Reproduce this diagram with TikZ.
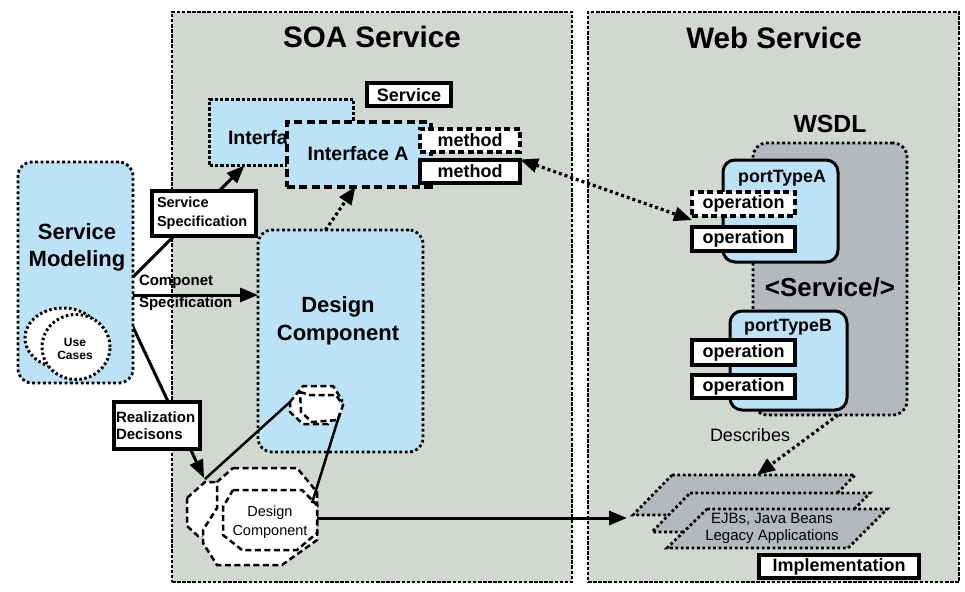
\documentclass[tikz,border=0pt]{standalone}
\usepackage{fontspec}
\setmainfont{Liberation Sans}
\usetikzlibrary{arrows.meta,shapes.geometric,calc}
\pgfdeclarelayer{bg}\pgfdeclarelayer{lines}
\pgfsetlayers{bg,lines,main}
\definecolor{panelgray}{RGB}{211,215,210}
\definecolor{lblue}{RGB}{188,226,248}
\definecolor{dgray}{RGB}{181,185,190}
\newcommand\fsz[2]{\fontsize{#1pt}{#2pt}\selectfont}
\begin{document}
\begin{tikzpicture}[x=1pt,y=-1pt,
  every node/.style={inner sep=0pt, outer sep=0pt},
  panel/.style={draw, line width=1.5pt, dash pattern=on 3.5pt off 1.6pt, fill=panelgray},
  dotbox/.style={draw, line width=2.8pt, dash pattern=on 2.8pt off 2.6pt, rounded corners=14pt, fill=lblue},
  thickbox/.style={draw, line width=4pt, fill=white},
  dashbox/.style={draw, line width=4pt, dash pattern=on 6pt off 3.5pt, fill=white},
  densedot/.style={draw, line width=3.6pt, dash pattern=on 3.4pt off 2pt, fill=lblue},
  portbox/.style={draw, line width=3pt, rounded corners=12pt, fill=lblue},
  octo/.style={draw, line width=2.5pt, dash pattern=on 6pt off 3.5pt, line join=miter},
  ucell/.style={ellipse, draw, line width=3pt, dash pattern=on 2.5pt off 2.5pt, fill=white},
  pgram/.style={draw, line width=2.8pt, dash pattern=on 2.8pt off 2.6pt, fill=dgray},
  solidarrow/.style={line width=3pt, -{Triangle[length=18pt,width=14pt]}},
  dotarrow/.style={line width=3.2pt, dash pattern=on 3pt off 3pt, -{Triangle[length=18pt,width=14pt]}},
  thinline/.style={line width=2.5pt},
  lblb/.style={font=\fsz{18}{20}\bfseries},
]
\useasboundingbox (0,0) rectangle (965,591);

% background and panels
\begin{pgfonlayer}{bg}
\fill[white] (0,0) rectangle (965,591);
\node[panel, minimum width=400pt, minimum height=570pt] (soa) at (372,297) {};
\node[panel, minimum width=371pt, minimum height=570pt] (web) at (773.5,297) {};
\end{pgfonlayer}
\node[font=\fsz{29.6}{34}\bfseries] (soat) at (372,37) {SOA Service};
\node[font=\fsz{29.6}{34}\bfseries] (webt) at (774,38) {Web Service};

% service modeling
\node[dotbox, minimum width=115pt, minimum height=221pt] (sm) at (75.5,272.5) {};
\node[font=\fsz{22}{27}\bfseries, align=center] (smt) at (77,247) {Service\\Modeling};
\node[ucell, minimum width=76pt, minimum height=60pt] (uc1) at (63,338) {};
\node[ucell, minimum width=68pt, minimum height=65pt] (uc2) at (76,347) {};
\node[font=\fsz{12}{13}\bfseries, align=center] (uct) at (75,349) {Use\\Cases};

% interfaces
\node[densedot, minimum width=144pt, minimum height=66pt] (iface) at (281.5,132.5) {};
\node[font=\fsz{19.5}{22}\bfseries, anchor=west] (ifacet) at (228,138) {Interface};
\node[draw, line width=4pt, dash pattern=on 8pt off 4.5pt, fill=lblue, minimum width=144pt, minimum height=65pt] (ifa) at (358.5,154) {};
\node[font=\fsz{19.5}{22}\bfseries] (ifat) at (358,154) {Interface A};
\node[dashbox, lblb, minimum width=100pt, minimum height=23pt] (m1) at (470,140) {method};
\node[thickbox, lblb, minimum width=100pt, minimum height=23pt] (m2) at (470,171) {method};
\node[thickbox, lblb, minimum width=84pt, minimum height=23pt] (svc) at (409,95) {Service};

% labels on the left
\node[thickbox, minimum width=104pt, minimum height=45pt, text width=94pt, align=left, font=\fsz{14.5}{19}\bfseries] (ss) at (204,213.5) {Service\\Specification};
\node[thickbox, minimum width=86pt, minimum height=47pt, text width=82pt, align=left, font=\fsz{15}{17}\bfseries] (rd) at (157,425.5) {Realization\\Decisons};
\node[font=\fsz{15}{17}\bfseries, anchor=west] (cs1) at (139,282) {Componet};
\node[font=\fsz{15}{17}\bfseries, anchor=west] (cs2) at (139,304) {Specification};

% design component
\node[dotbox, minimum width=165pt, minimum height=222pt] (dc) at (340.5,341) {};
\node[font=\fsz{22}{28}\bfseries, align=center] (dct) at (338,321) {Design\\Component};

% small hexagons
\filldraw[octo, fill=white] (290,402)--(303,386)--(333,386)--(342,400)--(336,414)--(328,424)--(303,424)--(290,412)--cycle;
\filldraw[octo, fill=white] (300,392)--(310,395)--(336,395)--(343,405)--(338,420)--(312,422)--(301,412)--cycle;

% octagons
\filldraw[octo, fill=white] (187,498)--(205,482)--(240,482)--(250,495)--(250,525)--(240,536)--(198,536)--(187,526)--cycle;
\filldraw[octo, fill=white] (233,468)--(297,468)--(317,492)--(317,540)--(282,565)--(217,565)--(203,543)--(203,530)--(217,508)--(217,482)--cycle;
\filldraw[octo, fill=white] (233,490)--(302,490)--(317,505)--(317,533)--(297,550)--(242,550)--(223,535)--(223,507)--cycle;
\node[font=\fsz{14.5}{19}, align=center] (oct) at (270,522) {Design\\Component};

\coordinate (h1l) at (290,402);
\coordinate (h1r) at (340,413);
\coordinate (oAt) at (205,479);
\coordinate (oCr) at (312,503);
\coordinate (oCe) at (317,518);
\coordinate (rdend) at (204,478);
\coordinate (impin) at (627,518);
\coordinate (p1top) at (757,475);

\draw[thinline] (h1l) -- (oAt);
\draw[thinline] (h1r) -- (oCr);

% web service side
\node[font=\fsz{24.8}{28}\bfseries] (wsdlt) at (830,124) {WSDL};
\node[dotbox, fill=dgray, minimum width=154pt, minimum height=272pt] (wsdl) at (830,279) {};
\node[portbox, minimum width=115pt, minimum height=102pt] (pa) at (780.5,211) {};
\node[font=\fsz{17.8}{20}\bfseries] (pat) at (782,178) {portTypeA};
\node[dashbox, lblb, minimum width=103pt, minimum height=24pt] (oa1) at (743.5,204) {operation};
\node[thickbox, lblb, minimum width=103pt, minimum height=24pt] (oa2) at (743.5,239) {operation};
\node[font=\fsz{26}{30}\bfseries] (svct) at (830,287) {<Service/>};
\node[portbox, minimum width=117pt, minimum height=99pt] (pb) at (788.5,360.5) {};
\node[font=\fsz{17.8}{20}\bfseries] (pbt) at (788,327) {portTypeB};
\node[thickbox, lblb, minimum width=103pt, minimum height=25pt] (ob1) at (743.5,352.5) {operation};
\node[thickbox, lblb, minimum width=103pt, minimum height=23pt] (ob2) at (743.5,386.5) {operation};
\node[font=\fsz{18}{20}] (desc) at (750,435) {Describes};

\draw[pgram] (672,475)--(855,475)--(816,515)--(633,515)--cycle;
\draw[pgram] (690,493)--(870,493)--(832,532)--(652,532)--cycle;
\draw[pgram] (707,509)--(887,509)--(848,548)--(667,548)--cycle;
\node[font=\fsz{15}{17}, align=center] (ejb) at (772,528.5) {EJBs, Java Beans\\Legacy Applications};
\node[thickbox, lblb, minimum width=160pt, minimum height=23pt] (impl) at (839,566.5) {Implementation};

% connectors behind labels
\begin{pgfonlayer}{lines}
\draw[solidarrow] ([yshift=-4.5pt]sm.east) -- ([xshift=35pt]iface.south west);
\draw[solidarrow] ([yshift=-54.5pt]sm.east) -- (rdend);
\end{pgfonlayer}

% other connectors
\draw[solidarrow] ([yshift=-22.5pt]sm.east) -- ([yshift=46pt]dc.west);
\draw[dotarrow] ([xshift=-15pt]dc.north) -- ([xshift=-3pt]ifa.south);
\draw[dotarrow, {Triangle[length=18pt,width=14pt]}-{Triangle[length=18pt,width=14pt]}] (m2.north east) -- ([yshift=-4pt]oa1.south west);
\draw[dotarrow] ([xshift=8pt]wsdl.south) -- (p1top);
\draw[solidarrow] (oCe) -- (impin);
\end{tikzpicture}
\end{document}
